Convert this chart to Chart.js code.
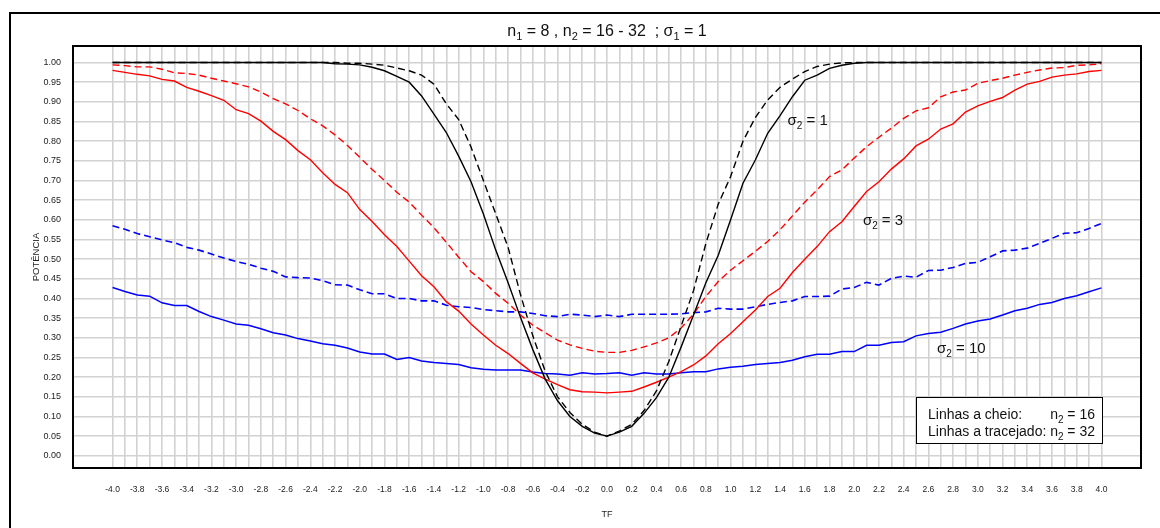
<!DOCTYPE html>
<html>
<head>
<meta charset="utf-8">
<script src="https://cdn.jsdelivr.net/npm/chart.js@4.4.1/dist/chart.umd.min.js"></script>
<style>
  html, body { margin: 0; padding: 0; background: #fff; }
</style>
</head>
<body>
<canvas id="myChart" width="1160" height="528"></canvas>
<script>
'use strict';
const FONT = "'Liberation Sans', Arial, Helvetica, sans-serif";

// TF values (x), -4.0 .. 4.0 step 0.1
const tf = [
  -4.0, -3.9, -3.8, -3.7, -3.6, -3.5, -3.4, -3.3, -3.2, -3.1,
  -3.0, -2.9, -2.8, -2.7, -2.6, -2.5, -2.4, -2.3, -2.2, -2.1,
  -2.0, -1.9, -1.8, -1.7, -1.6, -1.5, -1.4, -1.3, -1.2, -1.1,
  -1.0, -0.9, -0.8, -0.7, -0.6, -0.5, -0.4, -0.3, -0.2, -0.1,
  0.0,
  0.1, 0.2, 0.3, 0.4, 0.5, 0.6, 0.7, 0.8, 0.9, 1.0,
  1.1, 1.2, 1.3, 1.4, 1.5, 1.6, 1.7, 1.8, 1.9, 2.0,
  2.1, 2.2, 2.3, 2.4, 2.5, 2.6, 2.7, 2.8, 2.9, 3.0,
  3.1, 3.2, 3.3, 3.4, 3.5, 3.6, 3.7, 3.8, 3.9, 4.0
];

const xTickLabels = ['-4.0','-3.8','-3.6','-3.4','-3.2','-3.0','-2.8','-2.6','-2.4','-2.2',
  '-2.0','-1.8','-1.6','-1.4','-1.2','-1.0','-0.8','-0.6','-0.4','-0.2','0.0',
  '0.2','0.4','0.6','0.8','1.0','1.2','1.4','1.6','1.8','2.0',
  '2.2','2.4','2.6','2.8','3.0','3.2','3.4','3.6','3.8','4.0'];

const yTickValues = [0, 0.05, 0.1, 0.15, 0.2, 0.25, 0.3, 0.35, 0.4, 0.45, 0.5,
  0.55, 0.6, 0.65, 0.7, 0.75, 0.8, 0.85, 0.9, 0.95, 1.0];

// sigma2 = 1
const pot_s1_n16 = [
  1, 1, 1, 1, 1, 1, 1, 1, 1, 1,
  1, 1, 1, 1, 1, 1, 1, 1, 0.997, 0.996,
  0.994, 0.988, 0.979, 0.965, 0.95, 0.915, 0.869, 0.822, 0.762, 0.697,
  0.615, 0.523, 0.44, 0.352, 0.27, 0.195, 0.14, 0.10, 0.075, 0.058,
  0.05,
  0.06, 0.075, 0.108, 0.148, 0.2, 0.277, 0.358, 0.44, 0.51, 0.6,
  0.693, 0.752, 0.82, 0.865, 0.913, 0.955, 0.968, 0.985, 0.993, 0.998,
  1, 1, 1, 1, 1, 1, 1, 1, 1, 1,
  1, 1, 1, 1, 1, 1, 1, 1, 1, 1
];
const pot_s1_n32 = [
  1, 1, 1, 1, 1, 1, 1, 1, 1, 1,
  1, 1, 1, 1, 1, 1, 1, 1, 1, 0.998,
  0.998, 0.996, 0.993, 0.986, 0.979, 0.968, 0.945, 0.895, 0.855, 0.785,
  0.70, 0.615, 0.53, 0.41, 0.305, 0.215, 0.15, 0.11, 0.08, 0.06,
  0.05,
  0.063, 0.08, 0.115, 0.165, 0.24, 0.33, 0.42, 0.54, 0.64, 0.71,
  0.80, 0.86, 0.905, 0.937, 0.958, 0.977, 0.99, 0.996, 0.999, 1,
  1, 1, 1, 1, 1, 1, 1, 1, 1, 1,
  1, 1, 1, 1, 1, 1, 1, 1, 1, 1
];
// sigma2 = 3
const pot_s3_n16 = [
  0.980, 0.975, 0.970, 0.966, 0.957, 0.953, 0.937, 0.927, 0.916, 0.904,
  0.880, 0.870, 0.851, 0.825, 0.804, 0.776, 0.753, 0.720, 0.690, 0.669,
  0.626, 0.596, 0.562, 0.532, 0.495, 0.458, 0.430, 0.392, 0.368, 0.335,
  0.307, 0.281, 0.260, 0.235, 0.211, 0.195, 0.181, 0.168, 0.163, 0.162,
  0.160,
  0.162, 0.164, 0.175, 0.187, 0.200, 0.214, 0.231, 0.254, 0.285, 0.311,
  0.341, 0.371, 0.405, 0.426, 0.466, 0.500, 0.532, 0.570, 0.595, 0.634,
  0.672, 0.697, 0.729, 0.755, 0.788, 0.805, 0.831, 0.844, 0.874, 0.890,
  0.901, 0.911, 0.930, 0.945, 0.952, 0.963, 0.968, 0.971, 0.977, 0.980
];
const pot_s3_n32 = [
  0.994, 0.992, 0.989, 0.989, 0.983, 0.974, 0.972, 0.968, 0.960, 0.953,
  0.946, 0.938, 0.925, 0.908, 0.895, 0.878, 0.857, 0.839, 0.816, 0.789,
  0.759, 0.728, 0.700, 0.670, 0.645, 0.612, 0.580, 0.543, 0.505, 0.468,
  0.443, 0.413, 0.388, 0.358, 0.332, 0.313, 0.294, 0.282, 0.273, 0.266,
  0.263,
  0.263, 0.268, 0.277, 0.287, 0.300, 0.325, 0.360, 0.405, 0.443, 0.472,
  0.496, 0.520, 0.545, 0.575, 0.610, 0.645, 0.676, 0.710, 0.727, 0.757,
  0.786, 0.810, 0.833, 0.858, 0.877, 0.885, 0.913, 0.925, 0.930, 0.947,
  0.954, 0.960, 0.968, 0.975, 0.981, 0.986, 0.987, 0.993, 0.994, 0.997
];
// sigma2 = 10
const pot_s10_n16 = [
  0.428, 0.418, 0.409, 0.406, 0.389, 0.382, 0.382, 0.367, 0.354, 0.345,
  0.335, 0.332, 0.323, 0.313, 0.307, 0.298, 0.292, 0.285, 0.281, 0.274,
  0.264, 0.259, 0.259, 0.245, 0.250, 0.241, 0.237, 0.235, 0.232, 0.224,
  0.220, 0.218, 0.218, 0.218, 0.213, 0.209, 0.208, 0.205, 0.211, 0.208,
  0.209,
  0.211, 0.205, 0.211, 0.208, 0.208, 0.211, 0.214, 0.214, 0.221, 0.225,
  0.228, 0.232, 0.235, 0.237, 0.243, 0.252, 0.258, 0.258, 0.265, 0.265,
  0.281, 0.281, 0.288, 0.290, 0.305, 0.311, 0.314, 0.324, 0.335, 0.343,
  0.348, 0.358, 0.369, 0.375, 0.385, 0.390, 0.400, 0.407, 0.417, 0.427
];
const pot_s10_n32 = [
  0.585, 0.576, 0.565, 0.557, 0.549, 0.542, 0.530, 0.523, 0.513, 0.503,
  0.494, 0.487, 0.477, 0.469, 0.455, 0.453, 0.452, 0.445, 0.435, 0.434,
  0.422, 0.412, 0.412, 0.400, 0.400, 0.394, 0.394, 0.383, 0.379, 0.377,
  0.372, 0.369, 0.366, 0.366, 0.362, 0.356, 0.354, 0.360, 0.358, 0.354,
  0.358,
  0.354, 0.360, 0.360, 0.360, 0.360, 0.361, 0.364, 0.366, 0.375, 0.373,
  0.373, 0.379, 0.385, 0.390, 0.394, 0.405, 0.405, 0.406, 0.424, 0.428,
  0.441, 0.434, 0.451, 0.457, 0.454, 0.471, 0.472, 0.479, 0.489, 0.492,
  0.506, 0.521, 0.523, 0.528, 0.540, 0.553, 0.566, 0.567, 0.578, 0.591
];

// texts with subscripts: [text, isSubscript]
const titleParts = [['n'], ['1', true], [' = 8 , n'], ['2', true], [' = 16 - 32  ; σ'], ['1', true], [' = 1']];
const curveLabelText = [
  [['σ'], ['2', true], [' = 1']],
  [['σ'], ['2', true], [' = 3']],
  [['σ'], ['2', true], [' = 10']]
];
const curveLabelX = [1.46, 2.07, 2.67];
const curveLabelY = [0.841, 0.587, 0.262];
const legendLeft = ['Linhas a cheio:', 'Linhas a tracejado:'];
const legendRight = [
  [['n'], ['2', true], [' = 16']],
  [['n'], ['2', true], [' = 32']]
];

function partFont(p, size) {
  return (p[1] ? Math.round(size * 0.68) : size) + 'px ' + FONT;
}
function richWidth(ctx, parts, size) {
  let w = 0;
  parts.forEach(p => { ctx.font = partFont(p, size); w += ctx.measureText(p[0]).width; });
  return w;
}
function drawRich(ctx, parts, x, y, size) {
  ctx.textAlign = 'left';
  ctx.textBaseline = 'alphabetic';
  parts.forEach(p => {
    ctx.font = partFont(p, size);
    ctx.fillText(p[0], x, p[1] ? y + size * 0.25 : y);
    x += ctx.measureText(p[0]).width;
  });
}

const framePlugin = {
  id: 'frame',
  afterDraw(chart) {
    const ctx = chart.ctx;
    const a = chart.chartArea;
    const xs = chart.scales.x, ys = chart.scales.y;
    ctx.save();
    ctx.fillStyle = '#000';
    ctx.strokeStyle = '#000';
    ctx.lineWidth = 2;
    ctx.strokeRect(a.left, a.top, a.right - a.left, a.bottom - a.top);
    ctx.beginPath();
    ctx.moveTo(10, chart.height);
    ctx.lineTo(10, 13);
    ctx.lineTo(chart.width, 13);
    ctx.stroke();

    ctx.fillStyle = '#111';
    const tw = richWidth(ctx, titleParts, 16);
    drawRich(ctx, titleParts, (a.left + a.right) / 2 - tw / 2, 36, 16);

    curveLabelText.forEach((parts, i) => {
      drawRich(ctx, parts, xs.getPixelForValue(curveLabelX[i]), ys.getPixelForValue(curveLabelY[i]), 15);
    });

    // legend box
    const bw = 186, bh = 46;
    const bx = a.right - 39 - bw, by = a.bottom - 25 - bh;
    ctx.fillStyle = '#fff';
    ctx.fillRect(bx, by, bw, bh);
    ctx.lineWidth = 1;
    ctx.strokeRect(bx + 0.5, by + 0.5, bw, bh);
    ctx.fillStyle = '#111';
    legendLeft.forEach((txt, i) => {
      const base = by + 22 + i * 17;
      ctx.font = '14px ' + FONT;
      ctx.textAlign = 'left';
      ctx.textBaseline = 'alphabetic';
      ctx.fillText(txt, bx + 12, base);
      const rw = richWidth(ctx, legendRight[i], 14);
      drawRich(ctx, legendRight[i], bx + bw - 7 - rw, base, 14);
    });
    ctx.restore();
  }
};

const datasets = [
  { data: pot_s1_n16, borderColor: '#000000', borderWidth: 1.4 },
  { data: pot_s1_n32, borderColor: '#000000', borderWidth: 1.4, borderDash: [7, 4] },
  { data: pot_s3_n16, borderColor: '#ff0000', borderWidth: 1.4 },
  { data: pot_s3_n32, borderColor: '#ff0000', borderWidth: 1.4, borderDash: [7, 4] },
  { data: pot_s10_n16, borderColor: '#0000ff', borderWidth: 1.5 },
  { data: pot_s10_n32, borderColor: '#0000ff', borderWidth: 1.6, borderDash: [7, 4] }
].map(d => Object.assign({ pointRadius: 0, tension: 0, fill: false }, d));

const ctx = document.getElementById('myChart').getContext('2d');
const myChart = new Chart(ctx, {
  type: 'line',
  data: { labels: tf, datasets: datasets },
  plugins: [framePlugin],
  options: {
    responsive: false,
    animation: false,
    layout: { padding: { top: 46, right: 19, left: 0, bottom: 0 } },
    plugins: { legend: { display: false }, tooltip: { enabled: false }, title: { display: false } },
    scales: {
      x: {
        type: 'linear',
        min: -4.32,
        max: 4.32,
        afterBuildTicks: axis => { axis.ticks = tf.map(v => ({ value: v })); },
        afterFit: axis => { axis.height = 60; },
        grid: { color: '#d2d2d2', lineWidth: 1.6, drawTicks: false },
        border: { display: false },
        ticks: {
          autoSkip: false,
          maxRotation: 0,
          padding: 17,
          color: '#222',
          font: { family: FONT, size: 8.5 },
          callback: (value, index) => index % 2 === 0 ? xTickLabels[index / 2] : ''
        },
        title: { display: true, text: 'TF', color: '#222', font: { family: FONT, size: 9 }, padding: { top: 0, bottom: 8 } }
      },
      y: {
        min: -0.031,
        max: 1.042,
        afterBuildTicks: axis => { axis.ticks = yTickValues.map(v => ({ value: v })); },
        afterFit: axis => { axis.width = 73; },
        grid: { color: '#d2d2d2', lineWidth: 1.6, drawTicks: false },
        border: { display: false },
        ticks: {
          padding: 12,
          color: '#222',
          font: { family: FONT, size: 9 },
          callback: v => v.toFixed(2)
        },
        title: { display: true, text: 'POTÊNCIA', color: '#222', font: { family: FONT, size: 9.5 }, padding: { top: 31, bottom: 0 } }
      }
    }
  }
});
</script>
</body>
</html>
